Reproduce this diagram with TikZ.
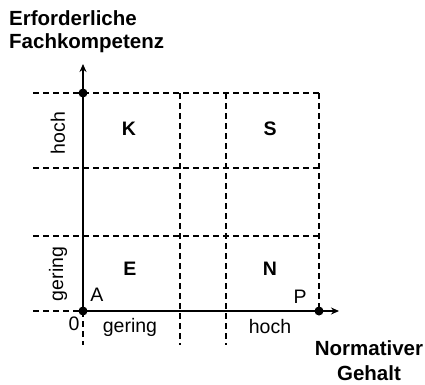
\documentclass[tikz,border=0pt]{standalone}
\usepackage{fontspec}
\setmainfont{Liberation Sans}
\usetikzlibrary{arrows.meta}
\begin{document}
\begin{tikzpicture}[x=1pt,y=-1pt,
  grid/.style={line width=1.3pt,dash pattern=on 6pt off 4pt},
  axis/.style={line width=2.8pt,-{Stealth[length=8pt,width=7pt]}},
  dot/.style={circle,fill=black,inner sep=0pt,minimum size=9pt},
  lab/.style={font=\fontsize{19.5}{21}\selectfont,inner sep=0pt},
  big/.style={font=\fontsize{19.5}{21}\selectfont\bfseries,inner sep=0pt},
  ttl/.style={font=\fontsize{20.5}{25}\selectfont\bfseries,inner sep=0pt,align=center}]
\useasboundingbox (0,0) rectangle (425,384);
% grid
\foreach \yy in {93,168,236,311} \draw[grid] (33,\yy) -- (319,\yy);
\draw[grid] (83,311) -- (83,345);
\draw[grid] (180,93) -- (180,345);
\draw[grid] (226,93) -- (226,345);
\draw[grid] (319,93) -- (319,311);
% points
\coordinate (O) at (83,311);
\coordinate (ytip) at (83,64);
\coordinate (xtip) at (339,311);
\draw[axis] (O) -- (ytip);
\draw[axis] (O) -- (xtip);
\node[dot] (Yp) at (83,93) {};
\node[dot] (A0) at (83,311) {};
\node[dot] (Pp) at (319,311) {};
% labels
\node[big] (K) at (129,129) {K};
\node[big] (S) at (270,129) {S};
\node[big] (E) at (130,269) {E};
\node[big] (N) at (270,269) {N};
\node[lab] (A) at (97,295) {A};
\node[lab] (P) at (300,297) {P};
\node[lab] (zero) at (74,324) {0};
\node[lab] (gx) at (130,327) {gering};
\node[lab] (hx) at (270,327) {hoch};
\node[lab,rotate=90] (hy) at (58,133) {hoch};
\node[lab,rotate=90] (gy) at (58,274) {gering};
\node[ttl,anchor=west] (t1) at (9,18) {Erforderliche};
\node[ttl,anchor=west] (t2) at (9,43) {Fachkompetenz};
\node[ttl] (n1) at (369,348) {Normativer};
\node[ttl] (n2) at (369,373) {Gehalt};
\end{tikzpicture}
\end{document}
